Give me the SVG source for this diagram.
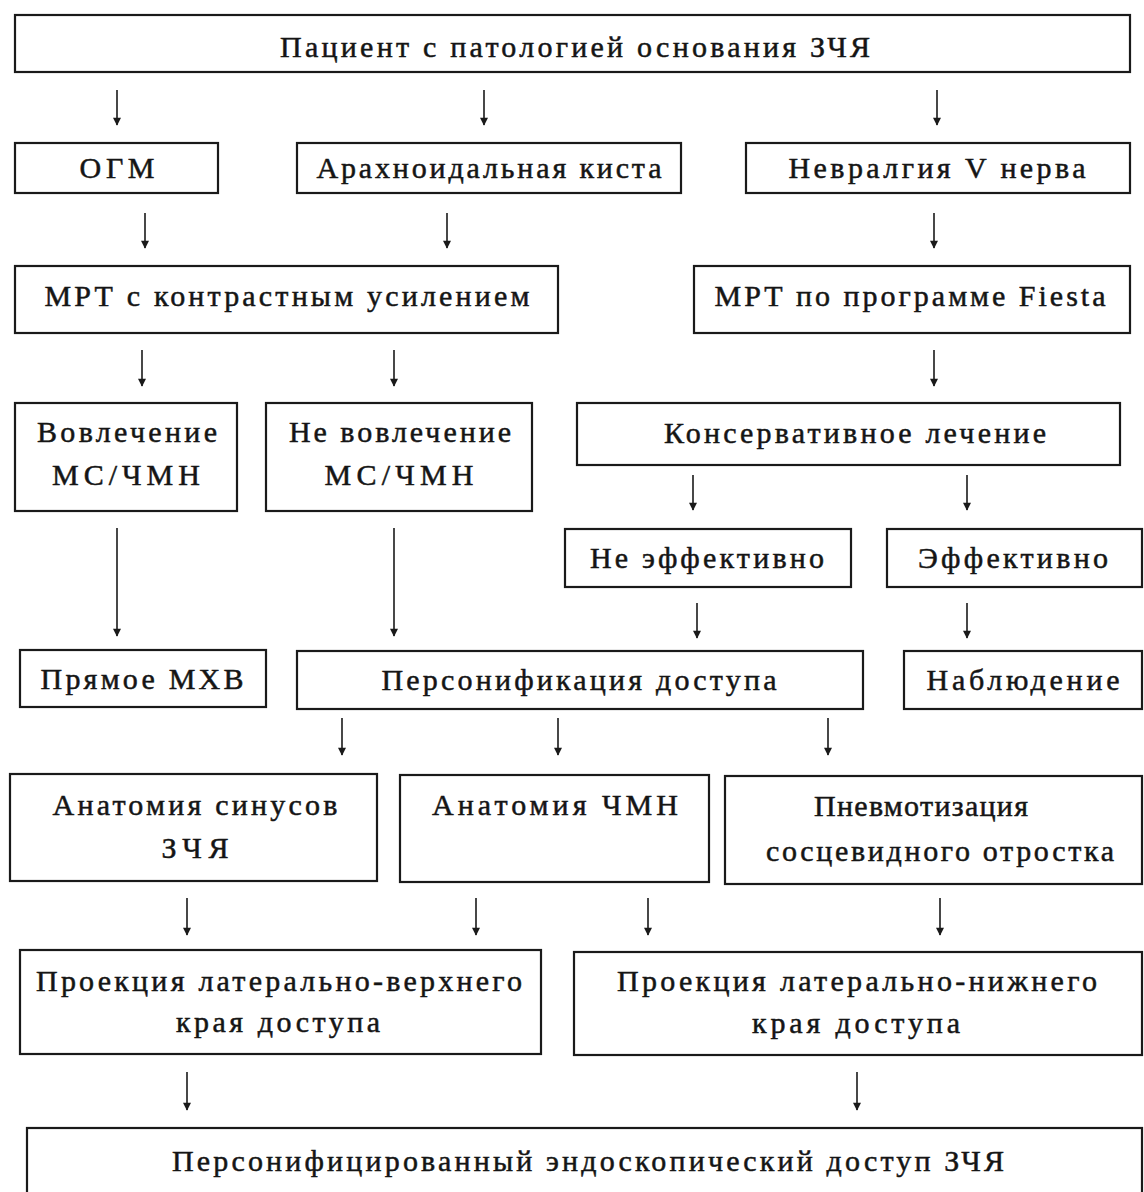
<svg xmlns="http://www.w3.org/2000/svg" width="1144" height="1192" viewBox="0 0 1144 1192">
<defs>
<style>
.box{fill:#fff;stroke:#1a1a1a;stroke-width:2.2}
.t{font-family:"Liberation Serif","DejaVu Serif","Times New Roman",serif;font-size:30px;fill:#151515;stroke:#151515;stroke-width:0.5;text-anchor:middle}
.c{stroke:#1a1a1a;stroke-width:1.6;fill:none}
</style>
<marker id="ah" viewBox="0 0 10 10" refX="9" refY="5" markerWidth="9" markerHeight="8" orient="auto" markerUnits="userSpaceOnUse">
<path d="M0,0 L10,5 L0,10 z" fill="#1a1a1a"/>
</marker>
</defs>
<rect width="1144" height="1192" fill="#fff"/>
<g id="connectors">
<line class="c" x1="117" y1="90" x2="117" y2="125" marker-end="url(#ah)"/>
<line class="c" x1="484" y1="90" x2="484" y2="125" marker-end="url(#ah)"/>
<line class="c" x1="937" y1="90" x2="937" y2="125" marker-end="url(#ah)"/>
<line class="c" x1="145" y1="213" x2="145" y2="248" marker-end="url(#ah)"/>
<line class="c" x1="447" y1="213" x2="447" y2="248" marker-end="url(#ah)"/>
<line class="c" x1="934" y1="213" x2="934" y2="248" marker-end="url(#ah)"/>
<line class="c" x1="142" y1="350" x2="142" y2="386" marker-end="url(#ah)"/>
<line class="c" x1="394" y1="350" x2="394" y2="386" marker-end="url(#ah)"/>
<line class="c" x1="934" y1="350" x2="934" y2="386" marker-end="url(#ah)"/>
<line class="c" x1="693" y1="475" x2="693" y2="510" marker-end="url(#ah)"/>
<line class="c" x1="967" y1="475" x2="967" y2="510" marker-end="url(#ah)"/>
<line class="c" x1="117" y1="528" x2="117" y2="636" marker-end="url(#ah)"/>
<line class="c" x1="394" y1="528" x2="394" y2="636" marker-end="url(#ah)"/>
<line class="c" x1="697" y1="603" x2="697" y2="638" marker-end="url(#ah)"/>
<line class="c" x1="967" y1="603" x2="967" y2="638" marker-end="url(#ah)"/>
<line class="c" x1="342" y1="718" x2="342" y2="755" marker-end="url(#ah)"/>
<line class="c" x1="558" y1="718" x2="558" y2="755" marker-end="url(#ah)"/>
<line class="c" x1="828" y1="718" x2="828" y2="755" marker-end="url(#ah)"/>
<line class="c" x1="187" y1="898" x2="187" y2="935" marker-end="url(#ah)"/>
<line class="c" x1="476" y1="898" x2="476" y2="935" marker-end="url(#ah)"/>
<line class="c" x1="648" y1="898" x2="648" y2="935" marker-end="url(#ah)"/>
<line class="c" x1="940" y1="898" x2="940" y2="935" marker-end="url(#ah)"/>
<line class="c" x1="187" y1="1072" x2="187" y2="1110" marker-end="url(#ah)"/>
<line class="c" x1="857" y1="1072" x2="857" y2="1110" marker-end="url(#ah)"/>
</g>
<g id="n-patient"><rect class="box" x="15" y="15" width="1115" height="57"/><text class="t" x="575" y="57" textLength="590" lengthAdjust="spacing">Пациент с патологией основания ЗЧЯ</text></g>
<g id="n-ogm"><rect class="box" x="15" y="143" width="203" height="50"/><text class="t" x="117" y="178" textLength="75" lengthAdjust="spacing">ОГМ</text></g>
<g id="n-cyst"><rect class="box" x="297" y="143" width="384" height="50"/><text class="t" x="489" y="178" textLength="345" lengthAdjust="spacing">Арахноидальная киста</text></g>
<g id="n-neuralgia"><rect class="box" x="746" y="143" width="384" height="50"/><text class="t" x="937" y="178" textLength="297" lengthAdjust="spacing">Невралгия V нерва</text></g>
<g id="n-mri-contrast"><rect class="box" x="15" y="266" width="543" height="67"/><text class="t" x="287" y="306" textLength="485" lengthAdjust="spacing">МРТ с контрастным усилением</text></g>
<g id="n-mri-fiesta"><rect class="box" x="694" y="266" width="436" height="67"/><text class="t" x="910" y="306" textLength="391" lengthAdjust="spacing">МРТ по программе Fiesta</text></g>
<g id="n-involve"><rect class="box" x="15" y="403" width="222" height="108"/><text class="t" x="127" y="442" textLength="180" lengthAdjust="spacing">Вовлечение</text><text class="t" x="126" y="485" textLength="148" lengthAdjust="spacing">МС/ЧМН</text></g>
<g id="n-noinvolve"><rect class="box" x="266" y="403" width="266" height="108"/><text class="t" x="400" y="442" textLength="222" lengthAdjust="spacing">Не вовлечение</text><text class="t" x="399" y="485" textLength="149" lengthAdjust="spacing">МС/ЧМН</text></g>
<g id="n-conservative"><rect class="box" x="577" y="403" width="543" height="62"/><text class="t" x="855" y="443" textLength="382" lengthAdjust="spacing">Консервативное лечение</text></g>
<g id="n-ineffective"><rect class="box" x="565" y="529" width="286" height="58"/><text class="t" x="707" y="568" textLength="234" lengthAdjust="spacing">Не эффективно</text></g>
<g id="n-effective"><rect class="box" x="887" y="529" width="255" height="58"/><text class="t" x="1013" y="568" textLength="190" lengthAdjust="spacing">Эффективно</text></g>
<g id="n-direct"><rect class="box" x="20" y="650" width="246" height="57"/><text class="t" x="142" y="689" textLength="203" lengthAdjust="spacing">Прямое МХВ</text></g>
<g id="n-personify"><rect class="box" x="297" y="651" width="566" height="58"/><text class="t" x="579" y="690" textLength="395" lengthAdjust="spacing">Персонификация доступа</text></g>
<g id="n-observe"><rect class="box" x="904" y="651" width="238" height="58"/><text class="t" x="1023" y="690" textLength="193" lengthAdjust="spacing">Наблюдение</text></g>
<g id="n-sinus"><rect class="box" x="10" y="774" width="367" height="107"/><text class="t" x="195" y="815" textLength="285" lengthAdjust="spacing">Анатомия синусов</text><text class="t" x="195" y="858" textLength="67" lengthAdjust="spacing">ЗЧЯ</text></g>
<g id="n-cn"><rect class="box" x="400" y="775" width="309" height="107"/><text class="t" x="555" y="815" textLength="246" lengthAdjust="spacing">Анатомия ЧМН</text></g>
<g id="n-mastoid"><rect class="box" x="725" y="776" width="417" height="108"/><text class="t" x="921" y="816" textLength="214" lengthAdjust="spacing">Пневмотизация</text><text class="t" x="940" y="861" textLength="348" lengthAdjust="spacing">сосцевидного отростка</text></g>
<g id="n-proj-upper"><rect class="box" x="20" y="950" width="521" height="104"/><text class="t" x="279" y="991" textLength="486" lengthAdjust="spacing">Проекция латерально-верхнего</text><text class="t" x="278" y="1032" textLength="204" lengthAdjust="spacing">края доступа</text></g>
<g id="n-proj-lower"><rect class="box" x="574" y="952" width="568" height="103"/><text class="t" x="857" y="991" textLength="480" lengthAdjust="spacing">Проекция латерально-нижнего</text><text class="t" x="856" y="1033" textLength="208" lengthAdjust="spacing">края доступа</text></g>
<g id="n-final"><rect class="box" x="27" y="1128" width="1115" height="70"/><text class="t" x="588" y="1171" textLength="832" lengthAdjust="spacing">Персонифицированный эндоскопический доступ ЗЧЯ</text></g>
</svg>
